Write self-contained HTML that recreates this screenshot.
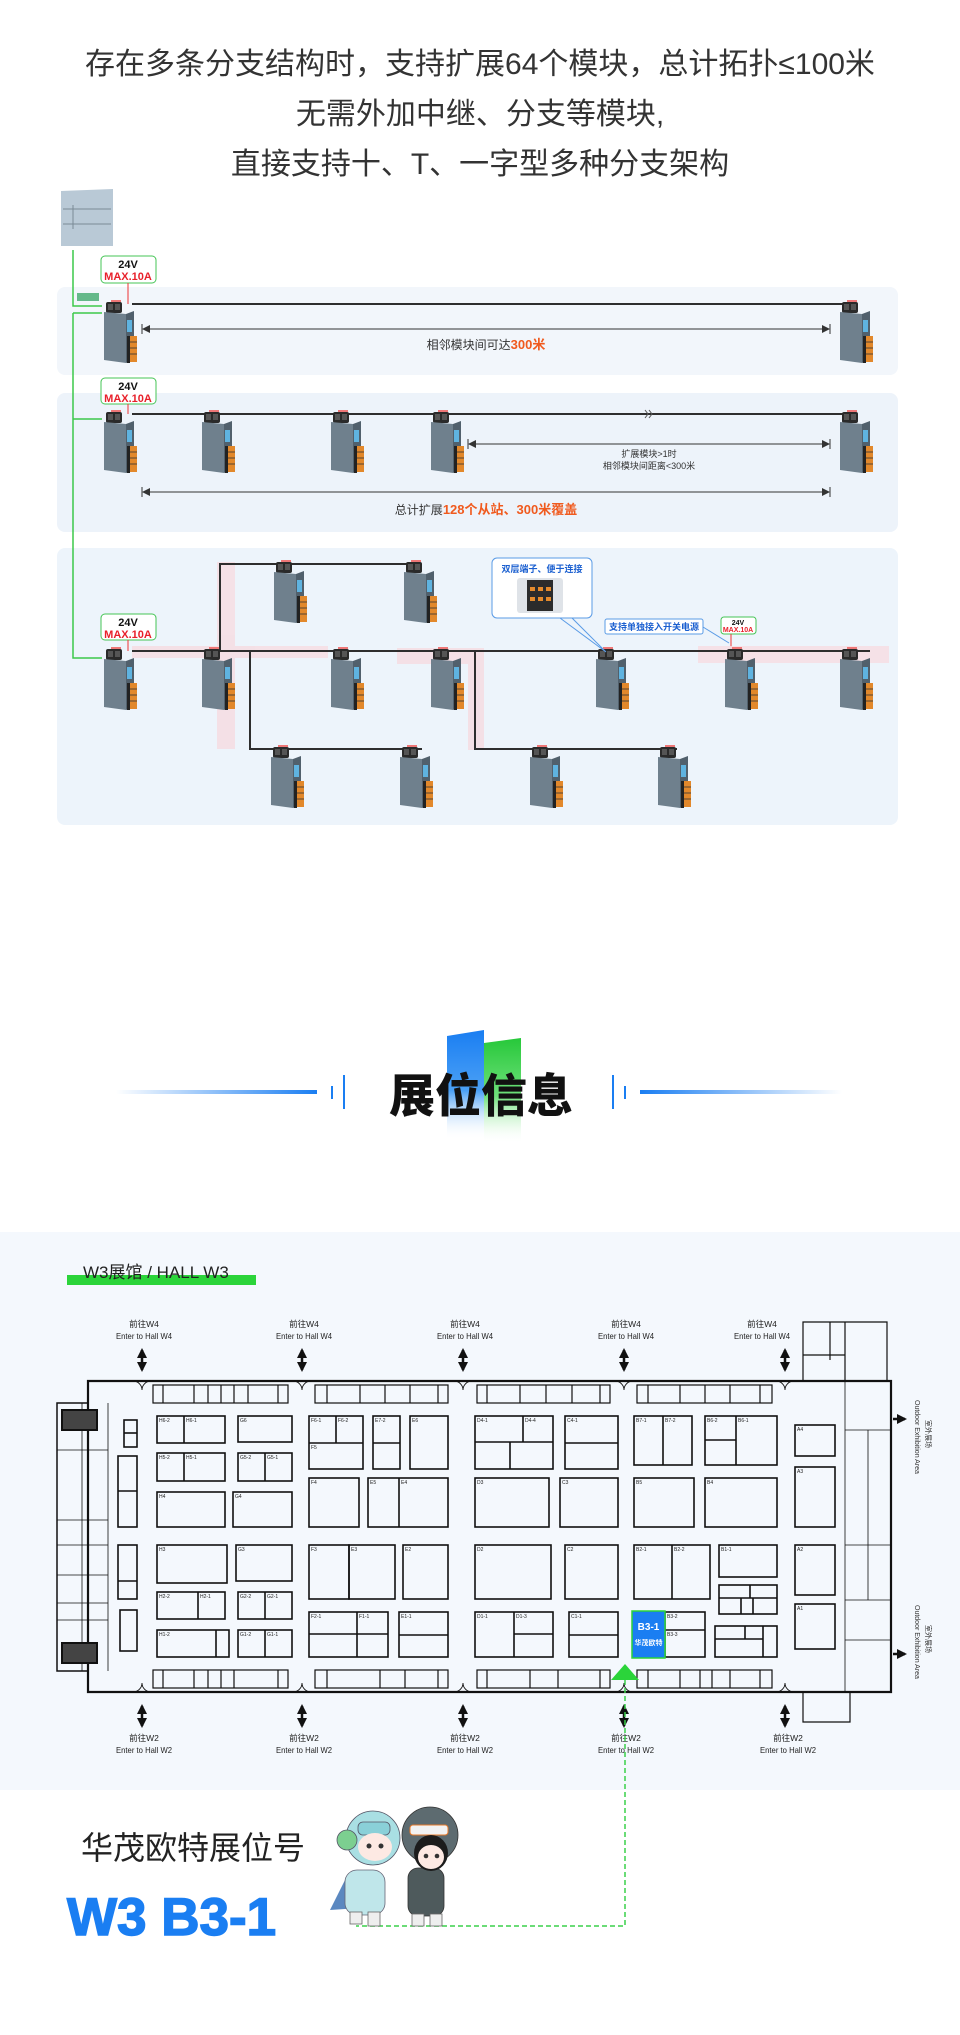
<!DOCTYPE html>
<html><head><meta charset="utf-8">
<style>
html,body{margin:0;padding:0;background:#fff;}
body{width:960px;height:2035px;overflow:hidden;position:relative;font-family:"Liberation Sans","Noto Sans CJK SC",sans-serif;}
svg{position:absolute;left:0;top:0;}
</style></head><body>
<svg width="960" height="2035" viewBox="0 0 960 2035" xmlns="http://www.w3.org/2000/svg" font-family="Liberation Sans, Noto Sans CJK SC, sans-serif">
<defs>
<marker id="ah" markerWidth="8" markerHeight="8" refX="7" refY="4" orient="auto-start-reverse" markerUnits="userSpaceOnUse"><path d="M0,0 L8,4 L0,8 z" fill="#333"/></marker>
<marker id="bh" markerWidth="10" markerHeight="10" refX="8" refY="5" orient="auto-start-reverse" markerUnits="userSpaceOnUse"><path d="M0,0 L10,5 L0,10 z" fill="#111"/></marker>
<linearGradient id="gb" x1="0" y1="0" x2="0" y2="1"><stop offset="0" stop-color="#1a7ef2"/><stop offset="0.55" stop-color="#4aa0f5"/><stop offset="1" stop-color="#fff" stop-opacity="0"/></linearGradient>
<linearGradient id="gg" x1="0" y1="0" x2="0" y2="1"><stop offset="0" stop-color="#27c83a"/><stop offset="0.55" stop-color="#6ee07a"/><stop offset="1" stop-color="#fff" stop-opacity="0"/></linearGradient>
<linearGradient id="ll" x1="0" y1="0" x2="1" y2="0"><stop offset="0" stop-color="#1a7ef2" stop-opacity="0"/><stop offset="1" stop-color="#1a7ef2"/></linearGradient>
<linearGradient id="lr" x1="0" y1="0" x2="1" y2="0"><stop offset="0" stop-color="#1a7ef2"/><stop offset="1" stop-color="#1a7ef2" stop-opacity="0"/></linearGradient>
<g id="m">
 <rect x="4" y="0" width="16" height="11" rx="2" fill="#2a2a2a"/>
 <rect x="6" y="2" width="5" height="6" fill="#555"/><rect x="13" y="2" width="5" height="6" fill="#555"/>
 <rect x="9" y="-2" width="10" height="2" fill="#e77"/>
 <polygon points="2,10 24,12 24,61 2,58" fill="#6f808d"/>
 <polygon points="24,12 32,9 32,58 24,61" fill="#51606c"/>
 <rect x="25" y="18" width="5" height="12" fill="#5fb3e0"/>
 <rect x="28" y="34" width="7" height="26" fill="#e2882b"/>
 <line x1="28" y1="40" x2="35" y2="40" stroke="#333" stroke-width="0.8"/><line x1="28" y1="46" x2="35" y2="46" stroke="#333" stroke-width="0.8"/><line x1="28" y1="52" x2="35" y2="52" stroke="#333" stroke-width="0.8"/>
 <rect x="25" y="34" width="3" height="27" fill="#222"/>
</g>
</defs>

<g font-size="30" fill="#333" text-anchor="middle">
<text x="480" y="74">存在多条分支结构时，支持扩展64个模块，总计拓扑≤100米</text>
<text x="480" y="124">无需外加中继、分支等模块,</text>
<text x="480" y="174">直接支持十、T、一字型多种分支架构</text>
</g>

<rect x="57" y="287" width="841" height="88" rx="8" fill="#f2f6fb"/>
<rect x="57" y="393" width="841" height="139" rx="8" fill="#edf3fa"/>
<rect x="57" y="548" width="841" height="277" rx="8" fill="#edf4fb"/>

<polygon points="61,191 113,189 113,246 61,246" fill="#b9c9d6"/>
<line x1="63" y1="209" x2="111" y2="209" stroke="#7b8a96"/><line x1="63" y1="224" x2="111" y2="224" stroke="#7b8a96"/>
<line x1="73" y1="205" x2="73" y2="229" stroke="#7b8a96"/>
<path d="M73,250 V306 H102" fill="none" stroke="#3cc84a" stroke-width="1.5"/>
<path d="M73,313 H102 M73,313 V658 H102 M73,419 H102" fill="none" stroke="#3cc84a" stroke-width="1.5"/>
<rect x="77" y="293" width="22" height="8" fill="#2aa05a" opacity="0.7"/>

<g font-weight="bold" text-anchor="middle">
<rect x="101" y="256" width="55" height="27" rx="4" fill="#fff" stroke="#45c455"/>
<text x="128" y="268" font-size="11" fill="#111">24V</text><text x="128" y="280" font-size="11" fill="#e8202a">MAX.10A</text>
<rect x="101" y="378" width="55" height="26" rx="4" fill="#fff" stroke="#45c455"/>
<text x="128" y="390" font-size="11" fill="#111">24V</text><text x="128" y="402" font-size="11" fill="#e8202a">MAX.10A</text>
<rect x="101" y="614" width="55" height="26" rx="4" fill="#fff" stroke="#45c455"/>
<text x="128" y="626" font-size="11" fill="#111">24V</text><text x="128" y="638" font-size="11" fill="#e8202a">MAX.10A</text>
<rect x="721" y="617" width="35" height="17" rx="3" fill="#fff" stroke="#45c455"/>
<text x="738" y="625" font-size="7" fill="#111">24V</text><text x="738" y="632" font-size="7" fill="#e8202a">MAX.10A</text>
</g>
<line x1="128" y1="283" x2="128" y2="304" stroke="#e33"/><line x1="128" y1="404" x2="128" y2="414" stroke="#e33"/><line x1="128" y1="640" x2="128" y2="651" stroke="#e33"/>
<line x1="731" y1="634" x2="731" y2="651" stroke="#e33"/>

<g fill="#f6dde3" opacity="0.85">
<rect x="217" y="562" width="18" height="187"/>
<rect x="132" y="646" width="196" height="12"/>
<rect x="397" y="648" width="87" height="16"/>
<rect x="468" y="648" width="16" height="102"/>
<rect x="698" y="646" width="191" height="17"/>
</g>

<g stroke="#2e2e2e" stroke-width="2" fill="none">
<line x1="132" y1="304" x2="851" y2="304"/>
<line x1="132" y1="414" x2="851" y2="414"/>
<line x1="132" y1="651" x2="870" y2="651"/>
<path d="M220,651 V564 H416"/>
<path d="M250,651 V749 H422"/>
<path d="M475,651 V749 H677"/>
</g>
<path d="M645,410 l3,4 l-3,4 M649,410 l3,4 l-3,4" stroke="#555" fill="none"/>

<use href="#m" x="102" y="302"/><use href="#m" x="838" y="302"/>
<use href="#m" x="102" y="412"/><use href="#m" x="200" y="412"/><use href="#m" x="329" y="412"/><use href="#m" x="429" y="412"/><use href="#m" x="838" y="412"/>
<use href="#m" x="102" y="649"/><use href="#m" x="200" y="649"/><use href="#m" x="329" y="649"/><use href="#m" x="429" y="649"/><use href="#m" x="594" y="649"/><use href="#m" x="723" y="649"/><use href="#m" x="838" y="649"/>
<use href="#m" x="272" y="562"/><use href="#m" x="402" y="562"/>
<use href="#m" x="269" y="747"/><use href="#m" x="398" y="747"/><use href="#m" x="528" y="747"/><use href="#m" x="656" y="747"/>

<g stroke="#333" stroke-width="1">
<line x1="143" y1="329" x2="829" y2="329" marker-start="url(#ah)" marker-end="url(#ah)"/>
<line x1="142" y1="324" x2="142" y2="334"/><line x1="830" y1="324" x2="830" y2="334"/>
<line x1="469" y1="444" x2="829" y2="444" marker-start="url(#ah)" marker-end="url(#ah)"/>
<line x1="468" y1="439" x2="468" y2="449"/><line x1="830" y1="439" x2="830" y2="449"/>
<line x1="143" y1="492" x2="829" y2="492" marker-start="url(#ah)" marker-end="url(#ah)"/>
<line x1="142" y1="487" x2="142" y2="497"/><line x1="830" y1="487" x2="830" y2="497"/>
</g>
<text x="486" y="349" font-size="12" text-anchor="middle" fill="#333">相邻模块间可达<tspan fill="#f05a1e" font-weight="bold" font-size="13">300米</tspan></text>
<text x="649" y="457" font-size="9" text-anchor="middle" fill="#333">扩展模块&gt;1时</text>
<text x="649" y="469" font-size="9" text-anchor="middle" fill="#333">相邻模块间距离&lt;300米</text>
<text x="486" y="514" font-size="12" text-anchor="middle" fill="#333">总计扩展<tspan fill="#f05a1e" font-weight="bold" font-size="13">128个从站、300米覆盖</tspan></text>

<rect x="492" y="558" width="100" height="60" rx="5" fill="#fff" stroke="#5a9be6"/>
<text x="542" y="572" font-size="9" font-weight="bold" text-anchor="middle" fill="#1a5fd0">双层端子、便于连接</text>
<rect x="517" y="578" width="46" height="35" rx="3" fill="#dfe3e8"/>
<rect x="527" y="580" width="26" height="31" fill="#2b2b2b"/>
<rect x="530" y="587" width="5" height="4" fill="#e38a2c"/><rect x="538" y="587" width="5" height="4" fill="#e38a2c"/><rect x="546" y="587" width="5" height="4" fill="#e38a2c"/>
<rect x="530" y="597" width="5" height="4" fill="#e38a2c"/><rect x="538" y="597" width="5" height="4" fill="#e38a2c"/><rect x="546" y="597" width="5" height="4" fill="#e38a2c"/>
<path d="M560,618 L606,652 M572,618 L606,652" stroke="#5a9be6" fill="none"/>
<rect x="605" y="619" width="98" height="15" rx="2" fill="#fff" stroke="#5a9be6"/>
<text x="654" y="630" font-size="9" font-weight="bold" text-anchor="middle" fill="#1a5fd0">支持单独接入开关电源</text>
<path d="M703,627 L729,643" stroke="#5a9be6"/>

<polygon points="447,1036 484,1030 484,1140 447,1140" fill="url(#gb)"/>
<polygon points="484,1043 521,1038 521,1144 484,1144" fill="url(#gg)"/>
<rect x="116" y="1090" width="201" height="4" fill="url(#ll)"/>
<rect x="640" y="1090" width="202" height="4" fill="url(#lr)"/>
<rect x="331" y="1086" width="2" height="13" fill="#1a7ef2"/><rect x="343" y="1075" width="2" height="34" fill="#1a7ef2"/>
<rect x="612" y="1075" width="2" height="34" fill="#1a7ef2"/><rect x="624" y="1086" width="2" height="13" fill="#1a7ef2"/>
<text x="481" y="1112" font-size="46" font-weight="900" text-anchor="middle" fill="#111">展位信息</text>

<rect x="0" y="1232" width="960" height="558" fill="#f4f8fd"/>
<rect x="67" y="1275" width="189" height="10" fill="#2bd43a"/>
<text x="83" y="1278" font-size="17" fill="#222">W3展馆 / HALL W3</text>

<g stroke="#111" fill="none">
<path d="M88,1381 H891 V1692 H88 Z" stroke-width="2.2"/>
<path d="M88,1403 H57 V1671 H88" stroke-width="1.5"/>
<path d="M57,1450 H108 M57,1520 H108 M57,1545 H108 M57,1575 H108 M57,1603 H108 M57,1620 H108 M82,1403 V1671 M108,1403 V1671" stroke-width="0.8"/>
<rect x="62" y="1410" width="35" height="20" stroke-width="2" fill="#444"/>
<rect x="62" y="1643" width="35" height="20" stroke-width="2" fill="#444"/>
<path d="M845,1381 V1692 M845,1430 H891 M845,1545 H891 M845,1600 H891 M845,1640 H891 M868,1430 V1600" stroke-width="0.8"/>
<path d="M803,1381 V1322 H887 V1381 M830,1322 V1360 M845,1322 V1381 M803,1355 H845" stroke-width="1.2"/>
<path d="M803,1692 V1722 H850 V1692" stroke-width="1.2"/>
<g stroke-width="1.2">
<rect x="153" y="1385" width="135" height="18"/><rect x="315" y="1385" width="133" height="18"/><rect x="477" y="1385" width="133" height="18"/><rect x="637" y="1385" width="135" height="18"/>
<rect x="153" y="1670" width="135" height="18"/><rect x="315" y="1670" width="133" height="18"/><rect x="477" y="1670" width="133" height="18"/><rect x="637" y="1670" width="135" height="18"/>
<path d="M163,1385 V1403 M194,1385 V1403 M208,1385 V1403 M221,1385 V1403 M234,1385 V1403 M248,1385 V1403 M278,1385 V1403 M327,1385 V1403 M360,1385 V1403 M385,1385 V1403 M410,1385 V1403 M438,1385 V1403 M487,1385 V1403 M520,1385 V1403 M546,1385 V1403 M572,1385 V1403 M600,1385 V1403 M648,1385 V1403 M680,1385 V1403 M705,1385 V1403 M730,1385 V1403 M760,1385 V1403"/>
<path d="M163,1670 V1688 M194,1670 V1688 M208,1670 V1688 M221,1670 V1688 M234,1670 V1688 M278,1670 V1688 M327,1670 V1688 M380,1670 V1688 M405,1670 V1688 M438,1670 V1688 M487,1670 V1688 M530,1670 V1688 M558,1670 V1688 M600,1670 V1688 M648,1670 V1688 M680,1670 V1688 M700,1670 V1688 M712,1670 V1688 M730,1670 V1688 M760,1670 V1688"/>
</g>
<g stroke-width="1.6">
<rect x="157" y="1416" width="68" height="27"/><line x1="184" y1="1416" x2="184" y2="1443"/>
<rect x="238" y="1416" width="54" height="26"/>
<rect x="157" y="1453" width="68" height="28"/><line x1="184" y1="1453" x2="184" y2="1481"/>
<rect x="238" y="1453" width="54" height="28"/><line x1="265" y1="1453" x2="265" y2="1481"/>
<rect x="157" y="1492" width="68" height="35"/><rect x="233" y="1492" width="59" height="35"/>
<rect x="157" y="1545" width="70" height="38"/><rect x="236" y="1545" width="56" height="36"/>
<rect x="157" y="1592" width="68" height="27"/><line x1="198" y1="1592" x2="198" y2="1619"/>
<rect x="238" y="1592" width="54" height="27"/><line x1="265" y1="1592" x2="265" y2="1619"/>
<rect x="157" y="1630" width="72" height="27"/><line x1="216" y1="1630" x2="216" y2="1657"/>
<rect x="238" y="1630" width="54" height="27"/><line x1="265" y1="1630" x2="265" y2="1657"/>
<rect x="124" y="1420" width="13" height="27"/><line x1="124" y1="1433" x2="137" y2="1433"/>
<rect x="118" y="1456" width="19" height="71"/><line x1="118" y1="1491" x2="137" y2="1491"/>
<rect x="118" y="1545" width="19" height="54"/><line x1="118" y1="1581" x2="137" y2="1581"/>
<rect x="120" y="1610" width="17" height="41"/>
<rect x="309" y="1416" width="54" height="53"/><path d="M336,1416 V1443 M309,1443 H363"/>
<rect x="373" y="1416" width="27" height="53"/><line x1="373" y1="1443" x2="400" y2="1443"/>
<rect x="410" y="1416" width="38" height="53"/>
<rect x="309" y="1478" width="50" height="49"/><rect x="368" y="1478" width="80" height="49"/><line x1="399" y1="1478" x2="399" y2="1527"/>
<rect x="309" y="1545" width="40" height="54"/><rect x="349" y="1545" width="46" height="54"/><rect x="403" y="1545" width="45" height="54"/>
<rect x="309" y="1612" width="79" height="45"/><path d="M357,1612 V1657 M309,1634 H388"/>
<rect x="399" y="1612" width="49" height="45"/><line x1="399" y1="1635" x2="448" y2="1635"/>
<rect x="475" y="1416" width="78" height="53"/><path d="M523,1416 V1442 M475,1442 H553 M510,1442 V1469"/>
<rect x="565" y="1416" width="53" height="53"/><line x1="565" y1="1443" x2="618" y2="1443"/>
<rect x="475" y="1478" width="74" height="49"/><rect x="560" y="1478" width="58" height="49"/>
<rect x="475" y="1545" width="76" height="54"/><rect x="565" y="1545" width="53" height="54"/>
<rect x="475" y="1612" width="78" height="45"/><path d="M514,1612 V1657 M514,1634 H553"/>
<rect x="569" y="1612" width="49" height="45"/><line x1="569" y1="1635" x2="618" y2="1635"/>
<rect x="634" y="1416" width="58" height="49"/><line x1="663" y1="1416" x2="663" y2="1465"/>
<rect x="705" y="1416" width="72" height="49"/><path d="M736,1416 V1465 M705,1440 H736"/>
<rect x="634" y="1478" width="60" height="49"/><rect x="705" y="1478" width="72" height="49"/>
<rect x="634" y="1545" width="76" height="54"/><line x1="672" y1="1545" x2="672" y2="1599"/>
<rect x="719" y="1545" width="58" height="32"/>
<rect x="719" y="1585" width="58" height="29"/><path d="M750,1585 V1598 M719,1598 H777 M741,1598 V1614 M753,1598 V1614"/>
<rect x="665" y="1612" width="40" height="45"/><line x1="665" y1="1630" x2="705" y2="1630"/>
<rect x="715" y="1626" width="62" height="31"/><path d="M715,1639 H763 M745,1626 V1639 M763,1626 V1657"/>
<rect x="795" y="1425" width="40" height="31"/><rect x="795" y="1467" width="40" height="60"/><rect x="795" y="1545" width="40" height="50"/><rect x="795" y="1604" width="40" height="45"/>
</g>
<g stroke-width="0.9">
<path d="M133,1381 a9,9 0 0 1 9,9 M151,1381 a9,9 0 0 0 -9,9 M293,1381 a9,9 0 0 1 9,9 M311,1381 a9,9 0 0 0 -9,9 M454,1381 a9,9 0 0 1 9,9 M472,1381 a9,9 0 0 0 -9,9 M615,1381 a9,9 0 0 1 9,9 M633,1381 a9,9 0 0 0 -9,9 M776,1381 a9,9 0 0 1 9,9 M794,1381 a9,9 0 0 0 -9,9"/>
<path d="M133,1692 a9,9 0 0 0 9,-9 M151,1692 a9,9 0 0 1 -9,-9 M293,1692 a9,9 0 0 0 9,-9 M311,1692 a9,9 0 0 1 -9,-9 M454,1692 a9,9 0 0 0 9,-9 M472,1692 a9,9 0 0 1 -9,-9 M615,1692 a9,9 0 0 0 9,-9 M633,1692 a9,9 0 0 1 -9,-9 M776,1692 a9,9 0 0 0 9,-9 M794,1692 a9,9 0 0 1 -9,-9"/>
</g>
</g>
<g stroke="#111" stroke-width="2.5">
<line x1="142" y1="1350" x2="142" y2="1370" marker-start="url(#bh)" marker-end="url(#bh)"/>
<line x1="302" y1="1350" x2="302" y2="1370" marker-start="url(#bh)" marker-end="url(#bh)"/>
<line x1="463" y1="1350" x2="463" y2="1370" marker-start="url(#bh)" marker-end="url(#bh)"/>
<line x1="624" y1="1350" x2="624" y2="1370" marker-start="url(#bh)" marker-end="url(#bh)"/>
<line x1="785" y1="1350" x2="785" y2="1370" marker-start="url(#bh)" marker-end="url(#bh)"/>
<line x1="142" y1="1706" x2="142" y2="1726" marker-start="url(#bh)" marker-end="url(#bh)"/>
<line x1="302" y1="1706" x2="302" y2="1726" marker-start="url(#bh)" marker-end="url(#bh)"/>
<line x1="463" y1="1706" x2="463" y2="1726" marker-start="url(#bh)" marker-end="url(#bh)"/>
<line x1="624" y1="1706" x2="624" y2="1726" marker-start="url(#bh)" marker-end="url(#bh)"/>
<line x1="785" y1="1706" x2="785" y2="1726" marker-start="url(#bh)" marker-end="url(#bh)"/>
<line x1="893" y1="1419" x2="905" y2="1419" marker-end="url(#bh)"/>
<line x1="893" y1="1654" x2="905" y2="1654" marker-end="url(#bh)"/>
</g>
<g font-size="8.5" fill="#222" text-anchor="middle">
<text x="144" y="1327">前往W4</text><text x="144" y="1339" textLength="56" lengthAdjust="spacingAndGlyphs">Enter to Hall W4</text>
<text x="304" y="1327">前往W4</text><text x="304" y="1339" textLength="56" lengthAdjust="spacingAndGlyphs">Enter to Hall W4</text>
<text x="465" y="1327">前往W4</text><text x="465" y="1339" textLength="56" lengthAdjust="spacingAndGlyphs">Enter to Hall W4</text>
<text x="626" y="1327">前往W4</text><text x="626" y="1339" textLength="56" lengthAdjust="spacingAndGlyphs">Enter to Hall W4</text>
<text x="762" y="1327">前往W4</text><text x="762" y="1339" textLength="56" lengthAdjust="spacingAndGlyphs">Enter to Hall W4</text>
<text x="144" y="1741">前往W2</text><text x="144" y="1753" textLength="56" lengthAdjust="spacingAndGlyphs">Enter to Hall W2</text>
<text x="304" y="1741">前往W2</text><text x="304" y="1753" textLength="56" lengthAdjust="spacingAndGlyphs">Enter to Hall W2</text>
<text x="465" y="1741">前往W2</text><text x="465" y="1753" textLength="56" lengthAdjust="spacingAndGlyphs">Enter to Hall W2</text>
<text x="626" y="1741">前往W2</text><text x="626" y="1753" textLength="56" lengthAdjust="spacingAndGlyphs">Enter to Hall W2</text>
<text x="788" y="1741">前往W2</text><text x="788" y="1753" textLength="56" lengthAdjust="spacingAndGlyphs">Enter to Hall W2</text>
</g>
<g font-size="5" fill="#222">
<text x="159" y="1422">H6-2</text><text x="186" y="1422">H6-1</text><text x="240" y="1422">G6</text>
<text x="159" y="1459">H5-2</text><text x="186" y="1459">H5-1</text><text x="240" y="1459">G5-2</text><text x="267" y="1459">G5-1</text>
<text x="159" y="1498">H4</text><text x="235" y="1498">G4</text><text x="159" y="1551">H3</text><text x="238" y="1551">G3</text>
<text x="159" y="1598">H2-2</text><text x="200" y="1598">H2-1</text><text x="240" y="1598">G2-2</text><text x="267" y="1598">G2-1</text>
<text x="159" y="1636">H1-2</text><text x="240" y="1636">G1-2</text><text x="267" y="1636">G1-1</text>
<text x="311" y="1422">F6-1</text><text x="338" y="1422">F6-2</text><text x="311" y="1449">F5</text><text x="375" y="1422">E7-2</text><text x="412" y="1422">E6</text>
<text x="311" y="1484">F4</text><text x="370" y="1484">E5</text><text x="401" y="1484">E4</text>
<text x="311" y="1551">F3</text><text x="351" y="1551">E3</text><text x="405" y="1551">E2</text>
<text x="311" y="1618">F2-1</text><text x="359" y="1618">F1-1</text><text x="401" y="1618">E1-1</text>
<text x="477" y="1422">D4-1</text><text x="525" y="1422">D4-4</text><text x="567" y="1422">C4-1</text><text x="477" y="1484">D3</text><text x="562" y="1484">C3</text>
<text x="477" y="1551">D2</text><text x="567" y="1551">C2</text><text x="477" y="1618">D1-1</text><text x="516" y="1618">D1-3</text><text x="571" y="1618">C1-1</text>
<text x="636" y="1422">B7-1</text><text x="665" y="1422">B7-2</text><text x="707" y="1422">B6-2</text><text x="738" y="1422">B6-1</text>
<text x="636" y="1484">B5</text><text x="707" y="1484">B4</text><text x="636" y="1551">B2-1</text><text x="674" y="1551">B2-2</text><text x="721" y="1551">B1-1</text>
<text x="667" y="1618">B3-2</text><text x="667" y="1636">B3-3</text><text x="797" y="1431">A4</text><text x="797" y="1473">A3</text><text x="797" y="1551">A2</text><text x="797" y="1610">A1</text>
</g>
<g font-size="7" fill="#333">
<text transform="translate(915,1400) rotate(90)">Outdoor Exhibition Area</text>
<text transform="translate(915,1605) rotate(90)">Outdoor Exhibition Area</text>
<text transform="translate(926,1420) rotate(90)">室外展场</text>
<text transform="translate(926,1625) rotate(90)">室外展场</text>
</g>
<rect x="632" y="1611" width="33" height="47" fill="#1a7ef2" stroke="#2bd43a" stroke-width="1.5"/>
<text x="648.5" y="1630" font-size="10" font-weight="bold" fill="#fff" text-anchor="middle">B3-1</text>
<text x="648.5" y="1645" font-size="7" font-weight="bold" fill="#fff" text-anchor="middle">华茂欧特</text>
<polygon points="611,1680 625,1664 639,1680" fill="#2bd43a"/>
<path d="M625,1680 V1926 H356" fill="none" stroke="#3ad04a" stroke-width="1.5" stroke-dasharray="5,3"/>

<text x="81" y="1859" font-size="32" fill="#222">华茂欧特展位号</text>
<text x="67" y="1935" font-size="53" font-weight="bold" fill="#1a7ef2" stroke="#1a7ef2" stroke-width="1.5">W3 B3-1</text>

<g>
<path d="M330,1910 L345,1880 L360,1908 Z" fill="#5b88c0"/>
<rect x="345" y="1870" width="40" height="45" rx="12" fill="#bfe6ea" stroke="#667" stroke-width="0.8"/>
<circle cx="373" cy="1838" r="27" fill="#a9dfe3" stroke="#556" stroke-width="0.8"/>
<circle cx="347" cy="1840" r="10" fill="#7ccf90" stroke="#556" stroke-width="0.8"/>
<rect x="358" y="1822" width="32" height="13" rx="5" fill="#8ad0d8" stroke="#556" stroke-width="0.8"/>
<ellipse cx="375" cy="1847" rx="17" ry="14" fill="#fde9e3"/>
<circle cx="369" cy="1846" r="2.5" fill="#333"/><circle cx="381" cy="1846" r="2.5" fill="#333"/>
<rect x="350" y="1912" width="12" height="12" fill="#eee" stroke="#666" stroke-width="0.8"/><rect x="368" y="1912" width="12" height="14" fill="#eee" stroke="#666" stroke-width="0.8"/>
<rect x="408" y="1868" width="36" height="48" rx="10" fill="#4e5a5c" stroke="#333" stroke-width="0.8"/>
<circle cx="430" cy="1835" r="28" fill="#5d6b70" stroke="#333" stroke-width="0.8"/>
<rect x="410" y="1825" width="38" height="10" rx="3" fill="#f2f2f2" stroke="#e77a2a"/>
<ellipse cx="431" cy="1853" rx="17" ry="18" fill="#1c1c1c"/>
<ellipse cx="431" cy="1857" rx="13" ry="12" fill="#fde9e3"/>
<circle cx="426" cy="1856" r="2.3" fill="#333"/><circle cx="437" cy="1856" r="2.3" fill="#333"/>
<rect x="412" y="1914" width="12" height="12" fill="#eee" stroke="#666" stroke-width="0.8"/><rect x="430" y="1914" width="12" height="12" fill="#eee" stroke="#666" stroke-width="0.8"/>
</g>
</svg>
</body></html>
